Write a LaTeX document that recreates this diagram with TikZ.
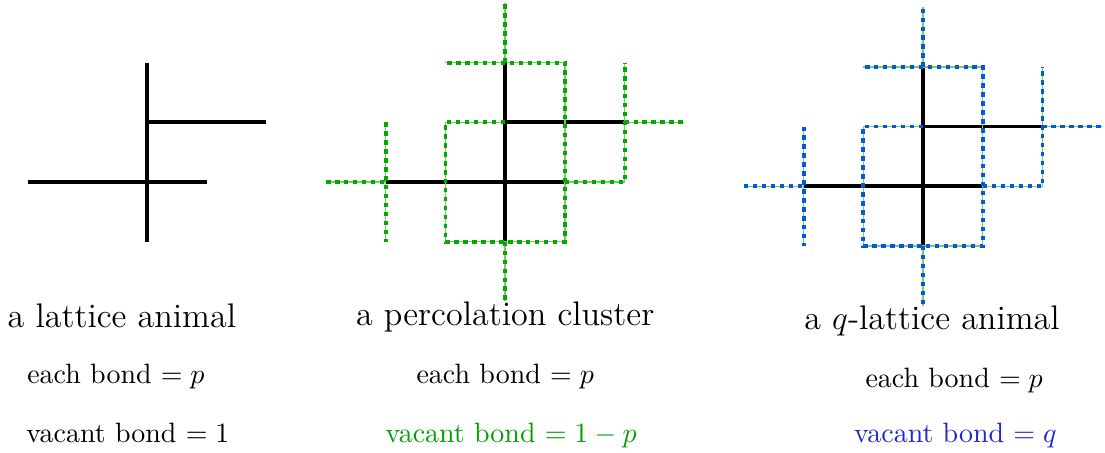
\documentclass[tikz,border=0pt]{standalone}
\usepackage{amsmath}
\usepackage{amssymb}
\usepackage[dvipsnames]{xcolor}

\definecolor{pgreen}{RGB}{0,170,0}
\definecolor{tgreen}{RGB}{0,160,0}
\definecolor{qblue}{RGB}{0,90,220}
\definecolor{tblue}{RGB}{30,40,200}
\definecolor{lgreen}{RGB}{130,200,100}

\tikzset{
  bond/.style={line width=1.4pt},
  vacant/.style={draw=lgreen, line width=0.5pt,
    postaction={draw=#1, line width=1.4pt, dash pattern=on 1.6pt off 1.6pt}},
  title/.style={anchor=base, font=\fontsize{12.2}{14}\selectfont},
  weight/.style={anchor=base},
}

% lattice sites (ij) at (i-3,j-2)
\newcommand{\sites}{%
  \foreach \i in {0,...,6} {
    \foreach \j in {0,...,5} {
      \coordinate (\i\j) at (\i-3,\j-2);
    }
  }}

\newcommand{\animal}{%
  \draw[bond] (12) -- (42);
  \draw[bond] (31) -- (34);
  \draw[bond] (33) -- (53);}

\newcommand{\perimeter}[1]{%
  \draw[vacant=#1] (02) -- (12);
  \draw[vacant=#1] (13) -- (11);
  \draw[vacant=#1] (33) -- (23) -- (21) -- (41) -- (44) -- (24);
  \draw[vacant=#1] (34) -- (35);
  \draw[vacant=#1] (31) -- (30);
  \draw[vacant=#1] (42) -- (52) -- (54);
  \draw[vacant=#1] (53) -- (63);}

\begin{document}
\begin{tikzpicture}[x=0.75cm, y=0.75cm]
  \useasboundingbox (-2.462,-4.523) rectangle (16.047,3.049);

  % lattice animal
  \begin{scope}[name prefix=L-]
    \sites
    \animal
    \node[title] (L-name) at (-0.42,-2.43) {a lattice animal};
    \node[weight] (L-each) at (-0.52,-3.37) {each bond $= p$};
    \node[weight] (L-vac) at (-0.32,-4.36) {vacant bond $= 1$};
  \end{scope}

  % percolation cluster
  \begin{scope}[shift={(6,0)}, name prefix=P-]
    \sites
    \animal
    \perimeter{pgreen}
    \node[title] (P-name) at (0,-2.395) {a percolation cluster};
    \node[weight] (P-each) at (0,-3.37) {each bond $= p$};
    \node[weight, text=tgreen] (P-vac) at (0.1,-4.36) {vacant bond $= 1-p$};
  \end{scope}

  % q-lattice animal
  \begin{scope}[shift={(13,-0.07)}, name prefix=Q-]
    \sites
    \animal
    \perimeter{qblue}
    \node[title] (Q-name) at (0.15,-2.40) {a $q$-lattice animal};
    \node[weight] (Q-each) at (0.52,-3.37) {each bond $= p$};
    \node[weight, text=tblue] (Q-vac) at (0.54,-4.29) {vacant bond $= q$};
  \end{scope}
\end{tikzpicture}
\end{document}
